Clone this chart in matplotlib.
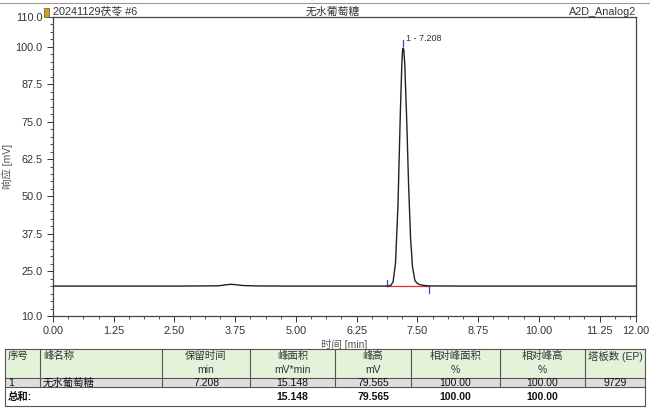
import matplotlib.pyplot as plt
from matplotlib.ticker import MultipleLocator, FixedLocator
from matplotlib.patches import Rectangle

plt.rcParams['font.family'] = ['Liberation Sans', 'Noto Sans CJK SC', 'DejaVu Sans']

# chromatogram readings (min, mV)
t = [0.0, 0.5, 1.0, 1.5, 2.0, 2.5, 3.0, 3.4, 3.55, 3.65, 3.75, 3.9, 4.2, 5.0, 6.0, 6.5,
     6.8, 6.9, 6.95, 7.0, 7.05, 7.1, 7.15, 7.18, 7.195, 7.208, 7.22, 7.24, 7.28, 7.32,
     7.36, 7.4, 7.45, 7.5, 7.55, 7.6, 7.7, 7.8, 8.5, 9.5, 10.5, 11.5, 12.0]
signal = [20.0, 20.0, 20.0, 20.0, 20.0, 20.0, 20.05, 20.1, 20.4, 20.6, 20.5, 20.2, 20.05, 20.0, 20.0, 20.0,
          20.0, 20.05, 20.2, 21.4, 27.7, 46.7, 78.3, 94.3, 98.8, 99.6, 99.0, 94.4, 75.8, 53.4,
          36.0, 26.4, 21.8, 20.9, 20.5, 20.3, 20.1, 20.05, 20.0, 20.0, 20.0, 20.0, 20.0]

peak_rt = 7.208
peak_start = 6.88
peak_end = 7.73
base_level = 20.0

sample_name = '20241129茯苓 #6'
compound = '无水葡萄糖'
channel = 'A2D_Analog2'

x_ticks = [0.0, 1.25, 2.5, 3.75, 5.0, 6.25, 7.5, 8.75, 10.0, 11.25, 12.0]
y_ticks = [10.0, 25.0, 37.5, 50.0, 62.5, 75.0, 87.5, 100.0, 110.0]

# result table
headers = [('序号', ''), ('峰名称', ''), ('保留时间', 'min'), ('峰面积', 'mV*min'), ('峰高', 'mV'),
           ('相对峰面积', '%'), ('相对峰高', '%'), ('塔板数 (EP)', '')]
row1 = ['1', '无水葡萄糖', '7.208', '15.148', '79.565', '100.00', '100.00', '9729']
total_row = ['总和:', '', '', '15.148', '79.565', '100.00', '100.00', '']

W, H = 650, 408
fig = plt.figure(figsize=(W / 100, H / 100), dpi=100)
fg = '#333333'

ax = fig.add_axes([53 / W, 1 - 316 / H, (636 - 53) / W, (316 - 17) / H])
ax.plot(t, signal, color='#222222', lw=1.0, zorder=3)
ax.plot([peak_start, peak_end], [base_level - 0.1, base_level - 0.1], color='#e03030', lw=0.9, zorder=2)
ax.plot([peak_start, peak_start], [base_level, base_level + 2.2], color='#3050c0', lw=0.9)
ax.plot([peak_end, peak_end], [base_level, base_level - 2.2], color='#3050c0', lw=0.9)
ax.plot([peak_rt, peak_rt], [100.4, 102.2], color='#3050c0', lw=0.9)
ax.text(peak_rt + 0.05, 101.2, '1 - 7.208', fontsize=6.5, color=fg, va='bottom', ha='left')

ax.set_xlim(0, 12)
ax.set_ylim(10, 110)
ax.xaxis.set_major_locator(FixedLocator(x_ticks))
ax.set_xticklabels(['%.2f' % v for v in x_ticks])
ax.xaxis.set_minor_locator(MultipleLocator(0.3125))
ax.yaxis.set_major_locator(FixedLocator(y_ticks))
ax.set_yticklabels(['%.1f' % v for v in y_ticks])
ax.yaxis.set_minor_locator(MultipleLocator(2.5))
ax.tick_params(which='both', labelsize=7.8, colors=fg, direction='out')
ax.tick_params(which='major', length=4, width=0.7)
ax.tick_params(which='minor', length=2, width=0.6)
for s in ax.spines.values():
    s.set_color('#444444')
    s.set_linewidth(0.9)
ax.set_xlabel('时间 [min]', fontsize=7.5, color='#555555', labelpad=2)
ax.set_ylabel('响应 [mV]', fontsize=7.5, color='#555555', labelpad=2)

# overlay in pixel coordinates for header and table
ov = fig.add_axes([0, 0, 1, 1], zorder=5)
ov.set_xlim(0, W)
ov.set_ylim(H, 0)
ov.axis('off')
ov.plot([0, W], [3, 3], color='#999999', lw=0.8)
ov.add_patch(Rectangle((44, 8), 5, 9, facecolor='#c8a030', edgecolor='#6a5010', lw=0.5))
ov.text(53, 12, sample_name, fontsize=7.8, color=fg, va='center', ha='left')
ov.text(333, 12, compound, fontsize=7.8, color=fg, va='center', ha='center')
ov.text(636, 12, channel, fontsize=7.8, color=fg, va='center', ha='right')

col_x = [5, 40, 162, 250, 335, 411, 500, 585, 645]
row_y = [349, 378, 387, 406]
ov.add_patch(Rectangle((col_x[0], row_y[0]), col_x[-1] - col_x[0], row_y[1] - row_y[0],
                       facecolor='#e3f2d8', edgecolor='none'))
ov.add_patch(Rectangle((col_x[0], row_y[1]), col_x[-1] - col_x[0], row_y[2] - row_y[1],
                       facecolor='#dedede', edgecolor='none'))
lc = '#555555'
for y in row_y:
    ov.plot([col_x[0], col_x[-1]], [y, y], color=lc, lw=0.8)
for i, x in enumerate(col_x):
    y_end = row_y[2] if 0 < i < len(col_x) - 1 else row_y[3]
    ov.plot([x, x], [row_y[0], y_end], color=lc, lw=0.8)

for i, (h1, h2) in enumerate(headers):
    x0, x1 = col_x[i], col_x[i + 1]
    if i < 2:
        ov.text(x0 + 3, 356, h1, fontsize=7.5, color=fg, va='center', ha='left')
    else:
        xc = (x0 + x1) / 2
        ov.text(xc, 356, h1, fontsize=7.5, color=fg, va='center', ha='center')
        if h2:
            ov.text(xc, 370, h2, fontsize=7.5, color=fg, va='center', ha='center')

for i, v in enumerate(row1):
    x0, x1 = col_x[i], col_x[i + 1]
    if i < 2:
        ov.text(x0 + 3, 382.5, v, fontsize=7.5, color='#111111', va='center', ha='left')
    else:
        ov.text((x0 + x1) / 2, 382.5, v, fontsize=7.5, color='#111111', va='center', ha='center')

for i, v in enumerate(total_row):
    if not v:
        continue
    x0, x1 = col_x[i], col_x[i + 1]
    if i == 0:
        ov.text(x0 + 3, 396.5, v, fontsize=7.5, color='#111111', va='center', ha='left', fontweight='bold')
    else:
        ov.text((x0 + x1) / 2, 396.5, v, fontsize=7.5, color='#111111', va='center', ha='center',
                fontweight='bold')

fig.savefig('out.png', dpi=100)
